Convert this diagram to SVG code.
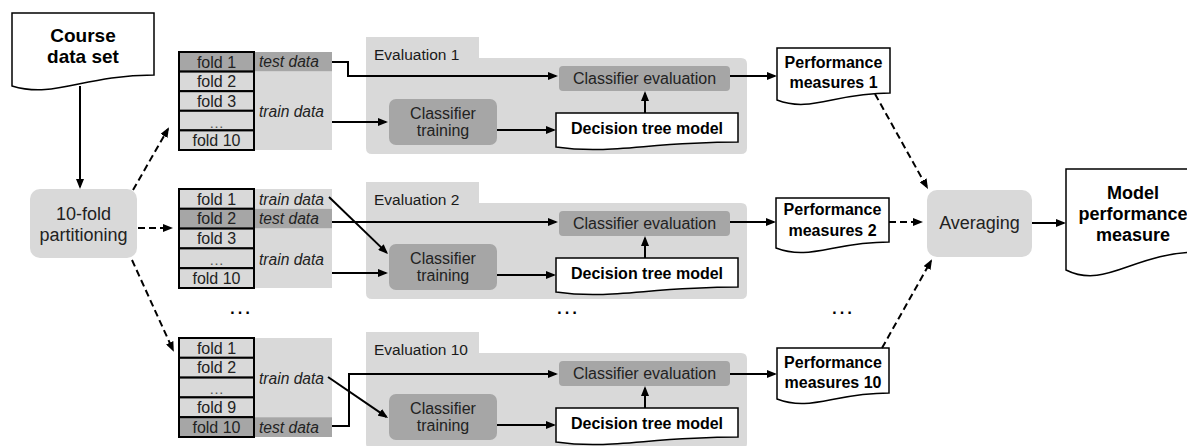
<svg xmlns="http://www.w3.org/2000/svg" width="1187" height="446" viewBox="0 0 1187 446">
  <defs>
    <marker id="arrow" viewBox="0 0 10 8" markerWidth="10" markerHeight="8" refX="8" refY="4" orient="auto" markerUnits="userSpaceOnUse">
      <path d="M0,0 L10,4 L0,8 Z" fill="#000"/>
    </marker>
    <style>
      text { font-family: "Liberation Sans", Arial, sans-serif; }
      .doc { fill: #fff; stroke: #000; stroke-width: 1.5; }
      .doc-t { font-weight: bold; fill: #000; text-anchor: middle; font-size: 16px; }
      .light { fill: #d9d9d9; }
      .dark { fill: #a6a6a6; }
      .lbl { fill: #222; text-anchor: middle; font-size: 16px; }
      .big { font-size: 18px; }
      .cell-l { fill: #d9d9d9; stroke: #000; stroke-width: 2; }
      .cell-d { fill: #a6a6a6; stroke: #000; stroke-width: 2; }
      .fold { fill: #222; text-anchor: middle; font-size: 16px; }
      .side { fill: #222; font-style: italic; font-size: 15.6px; }
      .gap { fill: #555; text-anchor: middle; font-size: 15px; }
      .more { fill: #000; text-anchor: middle; font-size: 24px; }
      .ln { fill: none; stroke: #000; stroke-width: 2; }
      .arr { marker-end: url(#arrow); }
      .dash { stroke-dasharray: 7 4; }
      .evl { fill: #1a1a1a; font-size: 15.5px; }
    </style>
  </defs>

  <rect width="1187" height="446" fill="#fff"/>

  <!-- source data set -->
  <g id="course-data-set">
    <path class="doc" d="M12,13 H154 V75 C83,75 54.6,99 12,86 Z"/>
    <text class="doc-t" x="83" y="41.5" style="font-size:19px">Course</text>
    <text class="doc-t" x="83" y="62.5" style="font-size:19px">data set</text>
  </g>

  <!-- partitioning step -->
  <g id="partitioning">
    <rect class="light" x="30" y="189" width="107" height="69" rx="10"/>
    <text class="lbl big" x="83.5" y="219.5">10-fold</text>
    <text class="lbl big" x="83.5" y="241">partitioning</text>
  </g>

  <!-- fold table, run 1 -->
  <g id="folds-1">
    <rect class="dark" x="254" y="52" width="78" height="19.6"/>
    <rect class="light" x="254" y="71.6" width="78" height="78.4"/>
    <rect class="cell-d" x="179" y="52" width="75" height="19.6"/>
    <rect class="cell-l" x="179" y="71.6" width="75" height="19.6"/>
    <rect class="cell-l" x="179" y="91.2" width="75" height="19.6"/>
    <rect class="cell-l" x="179" y="110.8" width="75" height="19.6"/>
    <rect class="cell-l" x="179" y="130.4" width="75" height="19.6"/>
    <text class="fold" x="216.5" y="67.5">fold 1</text>
    <text class="fold" x="216.5" y="87">fold 2</text>
    <text class="fold" x="216.5" y="106.6">fold 3</text>
    <text class="gap" x="216.5" y="127.5">…</text>
    <text class="fold" x="216.5" y="145.8">fold 10</text>
    <text class="side" x="259" y="67.3">test data</text>
    <text class="side" x="259" y="116.5">train data</text>
  </g>

  <!-- fold table, run 2 -->
  <g id="folds-2">
    <rect class="light" x="254" y="189" width="78" height="19.8"/>
    <rect class="dark" x="254" y="208.8" width="78" height="19.8"/>
    <rect class="light" x="254" y="228.6" width="78" height="59.4"/>
    <rect class="cell-l" x="179" y="189" width="75" height="19.8"/>
    <rect class="cell-d" x="179" y="208.8" width="75" height="19.8"/>
    <rect class="cell-l" x="179" y="228.6" width="75" height="19.8"/>
    <rect class="cell-l" x="179" y="248.4" width="75" height="19.8"/>
    <rect class="cell-l" x="179" y="268.2" width="75" height="19.8"/>
    <text class="fold" x="216.5" y="204.5">fold 1</text>
    <text class="fold" x="216.5" y="224.3">fold 2</text>
    <text class="fold" x="216.5" y="244.1">fold 3</text>
    <text class="gap" x="216.5" y="265">…</text>
    <text class="fold" x="216.5" y="283.7">fold 10</text>
    <text class="side" x="259" y="204.5">train data</text>
    <text class="side" x="259" y="224">test data</text>
    <text class="side" x="259" y="264.5">train data</text>
  </g>

  <!-- fold table, run 10 -->
  <g id="folds-10">
    <rect class="light" x="254" y="338" width="78" height="79.2"/>
    <rect class="dark" x="254" y="417.2" width="78" height="19.8"/>
    <rect class="cell-l" x="179" y="338" width="75" height="19.8"/>
    <rect class="cell-l" x="179" y="357.8" width="75" height="19.8"/>
    <rect class="cell-l" x="179" y="377.6" width="75" height="19.8"/>
    <rect class="cell-l" x="179" y="397.4" width="75" height="19.8"/>
    <rect class="cell-d" x="179" y="417.2" width="75" height="19.8"/>
    <text class="fold" x="216.5" y="353.5">fold 1</text>
    <text class="fold" x="216.5" y="373.3">fold 2</text>
    <text class="gap" x="216.5" y="394">…</text>
    <text class="fold" x="216.5" y="412.9">fold 9</text>
    <text class="fold" x="216.5" y="432.7">fold 10</text>
    <text class="side" x="259" y="383.5">train data</text>
    <text class="side" x="259" y="432.5">test data</text>
  </g>

  <!-- evaluation runs: same layout, shifted down -->
  <g id="evaluation-1">
    <path class="light" d="M366,37 H479 V58 H741 Q747,58 747,64 V148 Q747,154 741,154 H372 Q366,154 366,148 Z"/>
    <text class="evl" x="374" y="59.5">Evaluation 1</text>
    <g id="classifier-evaluation-1">
      <rect class="dark" x="559" y="66" width="171" height="25" rx="4"/>
      <text class="lbl" x="644.5" y="84">Classifier evaluation</text>
    </g>
    <g id="classifier-training-1">
      <rect class="dark" x="389" y="99" width="108" height="46" rx="7"/>
      <text class="lbl" x="443" y="119">Classifier</text>
      <text class="lbl" x="443" y="136">training</text>
    </g>
    <g id="decision-tree-1">
      <path class="doc" d="M556,113 H738 V142 C647,142 610.6,155 556,147 Z"/>
      <text class="doc-t" x="647" y="133.5">Decision tree model</text>
    </g>
  </g>

  <g id="evaluation-2" transform="translate(0,145)">
    <path class="light" d="M366,37 H479 V58 H741 Q747,58 747,64 V148 Q747,154 741,154 H372 Q366,154 366,148 Z"/>
    <text class="evl" x="374" y="59.5">Evaluation 2</text>
    <g id="classifier-evaluation-2">
      <rect class="dark" x="559" y="66" width="171" height="25" rx="4"/>
      <text class="lbl" x="644.5" y="84">Classifier evaluation</text>
    </g>
    <g id="classifier-training-2">
      <rect class="dark" x="389" y="99" width="108" height="46" rx="7"/>
      <text class="lbl" x="443" y="119">Classifier</text>
      <text class="lbl" x="443" y="136">training</text>
    </g>
    <g id="decision-tree-2">
      <path class="doc" d="M556,113 H738 V142 C647,142 610.6,155 556,147 Z"/>
      <text class="doc-t" x="647" y="133.5">Decision tree model</text>
    </g>
  </g>

  <g id="evaluation-10" transform="translate(0,295)">
    <path class="light" d="M366,37 H479 V58 H741 Q747,58 747,64 V148 Q747,154 741,154 H372 Q366,154 366,148 Z"/>
    <text class="evl" x="374" y="59.5">Evaluation 10</text>
    <g id="classifier-evaluation-10">
      <rect class="dark" x="559" y="66" width="171" height="25" rx="4"/>
      <text class="lbl" x="644.5" y="84">Classifier evaluation</text>
    </g>
    <g id="classifier-training-10">
      <rect class="dark" x="389" y="99" width="108" height="46" rx="7"/>
      <text class="lbl" x="443" y="119">Classifier</text>
      <text class="lbl" x="443" y="136">training</text>
    </g>
    <g id="decision-tree-10">
      <path class="doc" d="M556,113 H738 V142 C647,142 610.6,155 556,147 Z"/>
      <text class="doc-t" x="647" y="133.5">Decision tree model</text>
    </g>
  </g>

  <!-- per-run results -->
  <g id="performance-1">
    <path class="doc" d="M777,48 H890 V93 C833.5,93 811,113 777,100 Z"/>
    <text class="doc-t" x="833.5" y="67.6">Performance</text>
    <text class="doc-t" x="833.5" y="87.6">measures 1</text>
  </g>
  <g id="performance-2">
    <path class="doc" d="M776,198 H889 V242 C832.5,242 810,261 776,248 Z"/>
    <text class="doc-t" x="832.5" y="215">Performance</text>
    <text class="doc-t" x="832.5" y="235.5">measures 2</text>
  </g>
  <g id="performance-10">
    <path class="doc" d="M777,348 H889 V393 C833,393 811,412 777,399 Z"/>
    <text class="doc-t" x="833" y="367.5">Performance</text>
    <text class="doc-t" x="833" y="387.5">measures 10</text>
  </g>

  <!-- aggregation -->
  <g id="averaging">
    <rect class="light" x="927" y="190" width="105" height="67" rx="10"/>
    <text class="lbl big" x="979.5" y="229">Averaging</text>
  </g>
  <g id="model-performance">
    <path class="doc" d="M1066,169 H1200 V252 C1133,252 1106,290 1066,270 Z"/>
    <text class="doc-t" x="1133" y="199" style="font-size:18px">Model</text>
    <text class="doc-t" x="1133" y="220" style="font-size:18px">performance</text>
    <text class="doc-t" x="1133" y="241" style="font-size:18px">measure</text>
  </g>

  <!-- omitted runs -->
  <g id="omitted">
    <text class="more" x="240" y="314">…</text>
    <text class="more" x="567" y="314">…</text>
    <text class="more" x="842" y="314">…</text>
  </g>

  <g id="connectors">
    <path class="ln arr" d="M80,86 V187"/>
    <path class="ln arr dash" d="M133,190 L168,129"/>
    <path class="ln arr dash" d="M138,228 H171"/>
    <path class="ln arr dash" d="M132,260 L173,350"/>

    <path class="ln arr" d="M332,62 H348 V76 H556"/>
    <path class="ln arr" d="M332,122 H386"/>
    <path class="ln arr" d="M497,130 H554"/>
    <path class="ln arr" d="M645,113 V93"/>
    <path class="ln arr" d="M730,76 H775"/>

    <path class="ln arr" d="M329,197 L386.6,252.6"/>
    <path class="ln arr" d="M332,222 H556"/>
    <path class="ln arr" d="M332,273 H386"/>
    <path class="ln arr" d="M497,275 H554"/>
    <path class="ln arr" d="M645,258 V238"/>
    <path class="ln arr" d="M730,222 H774"/>

    <path class="ln arr" d="M328,377 L386.4,416.9"/>
    <path class="ln arr" d="M332,426 H349 V374 H556"/>
    <path class="ln arr" d="M497,425 H554"/>
    <path class="ln arr" d="M645,408 V388"/>
    <path class="ln arr" d="M730,374 H775"/>

    <path class="ln arr dash" d="M875,94 L927,187.3"/>
    <path class="ln arr dash" d="M889,222 H921"/>
    <path class="ln arr dash" d="M882,348 L931,261"/>
    <path class="ln arr" d="M1032,223 H1064"/>
  </g>
</svg>
